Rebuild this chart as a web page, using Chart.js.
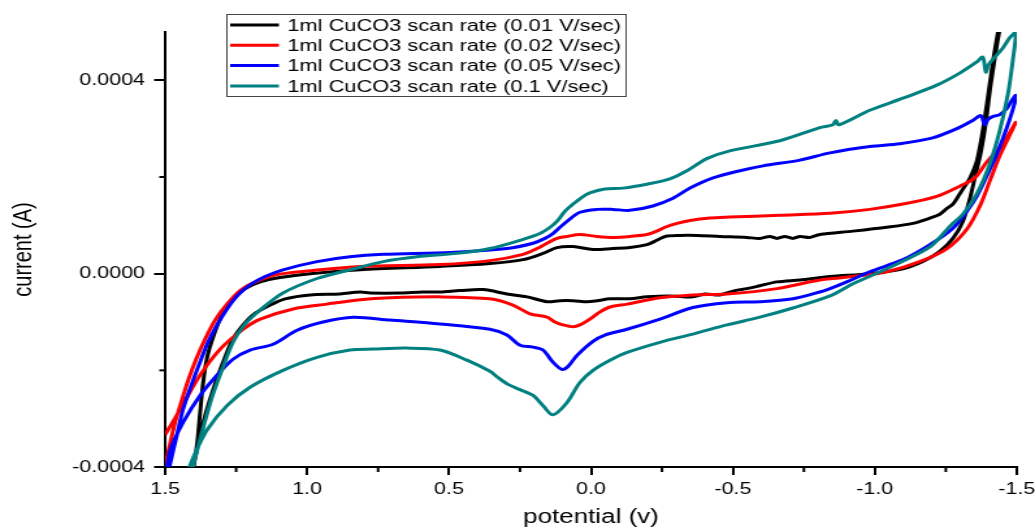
<!DOCTYPE html>
<html><head><meta charset="utf-8">
<script src="https://cdn.jsdelivr.net/npm/chart.js@4.4.1/dist/chart.umd.min.js"></script>
<style>
html,body{margin:0;padding:0;background:#fff;overflow:hidden}
#wrap{width:796px;height:529px;transform:scaleX(1.30025);transform-origin:0 0;}
canvas{display:block}
</style></head><body>
<div id="wrap"><canvas id="c" width="796" height="529"></canvas></div>
<script>
// Series labels
const seriesLabels = [
  '1ml CuCO3 scan rate (0.01 V/sec)',
  '1ml CuCO3 scan rate (0.02 V/sec)',
  '1ml CuCO3 scan rate (0.05 V/sec)',
  '1ml CuCO3 scan rate (0.1 V/sec)'
];
const seriesColors = ['#000000', '#ff0000', '#0000ff', '#008080'];

// Axis titles
const xTitle = 'potential (v)';
const yTitle = 'current (A)';

// [potential (V), current (A)], one closed CV sweep each
const loop001 = [
[1.408,-4.33e-4],[1.401,-4.06e-4],[1.387,-3.50e-4],[1.377,-2.88e-4],[1.366,-2.25e-4],[1.352,-1.73e-4],[1.331,-1.31e-4],[1.299,-0.85e-4],[1.261,-0.54e-4],[1.218,-0.31e-4],[1.165,-0.17e-4],[1.095,-0.08e-4],[0.989,0],[0.813,0.08e-4],[0.532,0.15e-4],[0.356,0.21e-4],[0.239,0.29e-4],[0.169,0.42e-4],[0.120,0.54e-4],[0.063,0.56e-4],[-0.007,0.50e-4],[-0.077,0.52e-4],[-0.137,0.54e-4],[-0.197,0.60e-4],[-0.232,0.69e-4],[-0.261,0.77e-4],[-0.313,0.79e-4],[-0.373,0.79e-4],[-0.454,0.77e-4],[-0.549,0.75e-4],[-0.595,0.73e-4],[-0.630,0.77e-4],[-0.655,0.73e-4],[-0.683,0.77e-4],[-0.711,0.73e-4],[-0.736,0.77e-4],[-0.771,0.75e-4],[-0.806,0.81e-4],[-0.923,0.88e-4],[-1.042,0.96e-4],[-1.134,1.04e-4],[-1.194,1.15e-4],[-1.229,1.23e-4],[-1.254,1.35e-4],[-1.275,1.44e-4],[-1.299,1.65e-4],[-1.317,1.81e-4],[-1.335,1.98e-4],[-1.359,2.33e-4],[-1.380,2.96e-4],[-1.398,3.65e-4],[-1.415,4.35e-4],[-1.433,4.98e-4],[-1.451,5.56e-4],
[-1.458,5.67e-4],[-1.430,4.73e-4],[-1.408,3.90e-4],[-1.391,3.13e-4],[-1.373,2.50e-4],[-1.352,1.98e-4],[-1.335,1.56e-4],[-1.310,1.08e-4],[-1.275,0.73e-4],[-1.229,0.46e-4],[-1.169,0.25e-4],[-1.099,0.10e-4],[-0.982,0],[-0.842,-0.06e-4],[-0.736,-0.13e-4],[-0.655,-0.17e-4],[-0.595,-0.25e-4],[-0.549,-0.31e-4],[-0.507,-0.35e-4],[-0.454,-0.44e-4],[-0.401,-0.42e-4],[-0.359,-0.48e-4],[-0.278,-0.46e-4],[-0.197,-0.48e-4],[-0.137,-0.52e-4],[-0.067,-0.52e-4],[-0.021,-0.56e-4],[0.014,-0.58e-4],[0.063,-0.56e-4],[0.109,-0.56e-4],[0.155,-0.58e-4],[0.225,-0.48e-4],[0.296,-0.42e-4],[0.380,-0.33e-4],[0.461,-0.35e-4],[0.532,-0.38e-4],[0.592,-0.38e-4],[0.673,-0.40e-4],[0.778,-0.40e-4],[0.813,-0.38e-4],[0.884,-0.42e-4],[0.989,-0.44e-4],[1.077,-0.52e-4],[1.130,-0.65e-4],[1.190,-0.85e-4],[1.225,-1.06e-4],[1.261,-1.35e-4],[1.296,-1.83e-4],[1.331,-2.40e-4],[1.366,-3.08e-4],[1.394,-3.81e-4],[1.412,-4.33e-4]
];
const loop002 = [
[1.5,-3.98e-4],[1.482,-3.50e-4],[1.465,-3.08e-4],[1.444,-2.67e-4],[1.419,-2.21e-4],[1.391,-1.77e-4],[1.359,-1.35e-4],[1.324,-0.96e-4],[1.282,-0.63e-4],[1.236,-0.35e-4],[1.190,-0.19e-4],[1.106,-0.02e-4],[0.989,0.06e-4],[0.813,0.15e-4],[0.532,0.19e-4],[0.356,0.27e-4],[0.239,0.40e-4],[0.190,0.52e-4],[0.155,0.63e-4],[0.120,0.73e-4],[0.085,0.77e-4],[0.039,0.81e-4],[-0.021,0.77e-4],[-0.077,0.75e-4],[-0.137,0.77e-4],[-0.197,0.81e-4],[-0.232,0.88e-4],[-0.261,0.96e-4],[-0.303,1.04e-4],[-0.349,1.10e-4],[-0.419,1.15e-4],[-0.489,1.17e-4],[-0.665,1.21e-4],[-0.842,1.25e-4],[-0.982,1.33e-4],[-1.099,1.44e-4],[-1.218,1.60e-4],[-1.299,1.81e-4],[-1.352,1.98e-4],[-1.394,2.31e-4],[-1.451,2.69e-4],[-1.496,3.13e-4],
[-1.486,3.00e-4],[-1.440,2.44e-4],[-1.405,1.92e-4],[-1.370,1.40e-4],[-1.324,0.92e-4],[-1.254,0.52e-4],[-1.158,0.25e-4],[-1.042,0.04e-4],[-0.923,-0.06e-4],[-0.806,-0.13e-4],[-0.655,-0.31e-4],[-0.479,-0.42e-4],[-0.359,-0.44e-4],[-0.243,-0.50e-4],[-0.127,-0.63e-4],[-0.067,-0.69e-4],[-0.032,-0.79e-4],[0.004,-0.94e-4],[0.039,-1.06e-4],[0.063,-1.10e-4],[0.099,-1.06e-4],[0.127,-1.00e-4],[0.155,-0.90e-4],[0.215,-0.83e-4],[0.275,-0.65e-4],[0.356,-0.52e-4],[0.532,-0.48e-4],[0.708,-0.50e-4],[0.813,-0.54e-4],[0.930,-0.63e-4],[1.049,-0.73e-4],[1.165,-0.94e-4],[1.225,-1.15e-4],[1.306,-1.56e-4],[1.377,-2.10e-4],[1.447,-2.81e-4],[1.5,-3.33e-4]
];
const loop005 = [
[1.493,-4.23e-4],[1.482,-3.92e-4],[1.461,-3.40e-4],[1.437,-2.81e-4],[1.408,-2.31e-4],[1.377,-1.83e-4],[1.349,-1.42e-4],[1.317,-1.06e-4],[1.282,-0.73e-4],[1.243,-0.44e-4],[1.201,-0.23e-4],[1.148,-0.06e-4],[1.085,0.08e-4],[0.965,0.25e-4],[0.849,0.35e-4],[0.732,0.40e-4],[0.496,0.44e-4],[0.296,0.52e-4],[0.204,0.63e-4],[0.162,0.73e-4],[0.134,0.83e-4],[0.109,0.96e-4],[0.085,1.08e-4],[0.039,1.27e-4],[-0.021,1.33e-4],[-0.077,1.33e-4],[-0.137,1.31e-4],[-0.218,1.40e-4],[-0.289,1.56e-4],[-0.349,1.77e-4],[-0.430,1.98e-4],[-0.525,2.13e-4],[-0.606,2.23e-4],[-0.736,2.35e-4],[-0.842,2.50e-4],[-0.982,2.63e-4],[-1.088,2.69e-4],[-1.204,2.81e-4],[-1.289,3.00e-4],[-1.345,3.17e-4],[-1.373,3.27e-4],[-1.387,3.08e-4],[-1.398,3.19e-4],[-1.415,3.25e-4],[-1.440,3.29e-4],[-1.465,3.42e-4],[-1.482,3.58e-4],[-1.496,3.69e-4],
[-1.493,3.54e-4],[-1.465,3.02e-4],[-1.430,2.48e-4],[-1.394,2.02e-4],[-1.359,1.60e-4],[-1.324,1.29e-4],[-1.275,0.94e-4],[-1.194,0.60e-4],[-1.099,0.29e-4],[-0.982,0.04e-4],[-0.901,-0.17e-4],[-0.842,-0.31e-4],[-0.806,-0.38e-4],[-0.711,-0.52e-4],[-0.595,-0.58e-4],[-0.479,-0.60e-4],[-0.359,-0.70e-4],[-0.243,-0.94e-4],[-0.127,-1.15e-4],[-0.049,-1.27e-4],[-0.007,-1.40e-4],[0.049,-1.69e-4],[0.081,-1.92e-4],[0.102,-1.98e-4],[0.134,-1.83e-4],[0.169,-1.58e-4],[0.204,-1.52e-4],[0.250,-1.48e-4],[0.296,-1.27e-4],[0.356,-1.15e-4],[0.532,-1.04e-4],[0.708,-0.96e-4],[0.838,-0.90e-4],[0.944,-1.00e-4],[1.035,-1.17e-4],[1.120,-1.46e-4],[1.201,-1.58e-4],[1.261,-1.77e-4],[1.317,-2.10e-4],[1.377,-2.52e-4],[1.437,-3.08e-4],[1.482,-3.65e-4],[1.496,-4.13e-4]
];
const loop01 = [
[1.412,-4.23e-4],[1.394,-3.81e-4],[1.366,-3.19e-4],[1.335,-2.56e-4],[1.299,-1.98e-4],[1.261,-1.42e-4],[1.218,-1.04e-4],[1.165,-0.75e-4],[1.085,-0.40e-4],[0.965,-0.10e-4],[0.849,0.08e-4],[0.732,0.25e-4],[0.613,0.35e-4],[0.472,0.42e-4],[0.356,0.52e-4],[0.239,0.71e-4],[0.180,0.83e-4],[0.144,0.96e-4],[0.120,1.08e-4],[0.092,1.29e-4],[0.063,1.44e-4],[0.032,1.58e-4],[0.004,1.67e-4],[-0.049,1.75e-4],[-0.113,1.77e-4],[-0.197,1.85e-4],[-0.278,1.96e-4],[-0.338,2.13e-4],[-0.408,2.38e-4],[-0.489,2.54e-4],[-0.665,2.75e-4],[-0.806,3.02e-4],[-0.852,3.08e-4],[-0.863,3.17e-4],[-0.873,3.08e-4],[-0.982,3.38e-4],[-1.099,3.63e-4],[-1.218,3.90e-4],[-1.299,4.15e-4],[-1.359,4.38e-4],[-1.380,4.48e-4],[-1.391,4.17e-4],[-1.401,4.33e-4],[-1.451,4.67e-4],[-1.475,4.88e-4],[-1.496,5.00e-4],
[-1.486,4.42e-4],[-1.468,3.69e-4],[-1.440,2.96e-4],[-1.405,2.27e-4],[-1.359,1.65e-4],[-1.310,1.23e-4],[-1.264,0.98e-4],[-1.204,0.60e-4],[-1.148,0.40e-4],[-1.042,0.10e-4],[-0.923,-0.21e-4],[-0.842,-0.46e-4],[-0.711,-0.71e-4],[-0.595,-0.90e-4],[-0.479,-1.06e-4],[-0.359,-1.25e-4],[-0.243,-1.42e-4],[-0.127,-1.63e-4],[-0.067,-1.79e-4],[-0.007,-2.00e-4],[0.039,-2.25e-4],[0.085,-2.67e-4],[0.134,-2.92e-4],[0.169,-2.73e-4],[0.204,-2.52e-4],[0.250,-2.40e-4],[0.292,-2.29e-4],[0.327,-2.15e-4],[0.356,-2.02e-4],[0.437,-1.79e-4],[0.532,-1.58e-4],[0.648,-1.54e-4],[0.768,-1.56e-4],[0.849,-1.58e-4],[0.965,-1.73e-4],[1.085,-2.00e-4],[1.201,-2.35e-4],[1.282,-2.73e-4],[1.352,-3.23e-4],[1.394,-3.71e-4],[1.423,-4.13e-4],[1.437,-4.33e-4]
];

// Axis ranges and ticks
const xMin = -1.5, xMax = 1.5, xStep = 0.5;
const yMin = -0.0004, yMax = 0.0005, yStep = 0.0004;

const loops = [loop001, loop002, loop005, loop01];
const FONT = '"Liberation Sans", Arial, Helvetica, sans-serif';
Chart.defaults.font.family = FONT;
Chart.defaults.color = '#000';

const datasets = loops.map((loop, i) => ({
  label: seriesLabels[i],
  data: loop.map(p => ({x: p[0], y: p[1]})),
  borderColor: seriesColors[i],
  backgroundColor: seriesColors[i],
  borderWidth: 3,
  pointRadius: 0,
  showLine: true,
  fill: false,
  tension: 0.3,
  order: loops.length - i
}));

const minorTicks = {
  id: 'minorTicks',
  afterDraw(chart) {
    const ctx = chart.ctx, a = chart.chartArea;
    const xs = chart.scales.x, ys = chart.scales.y;
    ctx.save();
    ctx.strokeStyle = '#000';
    ctx.lineWidth = 2;
    const xt = xs.ticks.map(t => t.value);
    for (let i = 0; i < xt.length - 1; i++) {
      const px = xs.getPixelForValue((xt[i] + xt[i + 1]) / 2);
      ctx.beginPath(); ctx.moveTo(px, a.bottom); ctx.lineTo(px, a.bottom + 5); ctx.stroke();
    }
    const yt = ys.ticks.map(t => t.value);
    for (let i = 0; i < yt.length - 1; i++) {
      const py = ys.getPixelForValue((yt[i] + yt[i + 1]) / 2);
      ctx.beginPath(); ctx.moveTo(a.left, py); ctx.lineTo(a.left - 4.5, py); ctx.stroke();
    }
    ctx.restore();
  }
};

const boxLegend = {
  id: 'boxLegend',
  afterDraw(chart) {
    const ctx = chart.ctx;
    const L = 174, T = 14, R = 481, B = 96;
    ctx.save();
    ctx.fillStyle = '#fff';
    ctx.fillRect(L, T, R - L, B - T);
    ctx.strokeStyle = '#444';
    ctx.lineWidth = 1;
    ctx.strokeRect(L + 0.5, T + 0.5, R - L, B - T);
    ctx.font = '16.8px ' + FONT;
    ctx.textBaseline = 'middle';
    ctx.textAlign = 'left';
    chart.data.datasets.forEach((ds, i) => {
      const yy = 25 + i * 20.3;
      ctx.strokeStyle = ds.borderColor;
      ctx.lineWidth = 3;
      ctx.beginPath(); ctx.moveTo(177, yy); ctx.lineTo(214.5, yy); ctx.stroke();
      ctx.fillStyle = '#000';
      ctx.fillText(ds.label, 221, yy + 1);
    });
    ctx.restore();
  }
};

new Chart(document.getElementById('c'), {
  type: 'scatter',
  data: { datasets },
  options: {
    responsive: false,
    animation: false,
    devicePixelRatio: 1,
    layout: { padding: { left: 0, right: 14, top: 32, bottom: 0 } },
    plugins: { legend: { display: false }, tooltip: { enabled: false } },
    scales: {
      x: {
        type: 'linear', min: xMin, max: xMax, reverse: true,
        ticks: { stepSize: xStep, callback: v => Number(v).toFixed(1), font: { size: 16.5 }, color: '#000', padding: 5, maxRotation: 0, autoSkip: false },
        grid: { drawOnChartArea: false, color: '#000', lineWidth: 2, tickLength: 8 },
        border: { display: true, color: '#000', width: 2 },
        title: { display: true, text: xTitle, font: { size: 20 }, color: '#000', padding: { top: 0, bottom: 0 } },
        afterFit: s => { s.height = 62; s.paddingLeft = 0; s.paddingRight = 0; }
      },
      y: {
        type: 'linear', min: yMin, max: yMax,
        ticks: { stepSize: yStep, callback: v => Number(v).toFixed(4), font: { size: 16.5 }, color: '#000', padding: 7 },
        afterBuildTicks: s => {
          s.ticks = s.ticks.filter(t => Math.abs(t.value / yStep - Math.round(t.value / yStep)) < 1e-6);
        },
        grid: { drawOnChartArea: false, color: '#000', lineWidth: 2, tickLength: 8.5 },
        border: { display: true, color: '#000', width: 2 },
        title: { display: true, text: yTitle, font: { size: 20 }, color: '#000', padding: { top: 6, bottom: 0 } },
        afterFit: s => { s.width = 127; s.paddingTop = 0; s.paddingBottom = 0; }
      }
    }
  },
  plugins: [minorTicks, boxLegend]
});
</script>
</body></html>
